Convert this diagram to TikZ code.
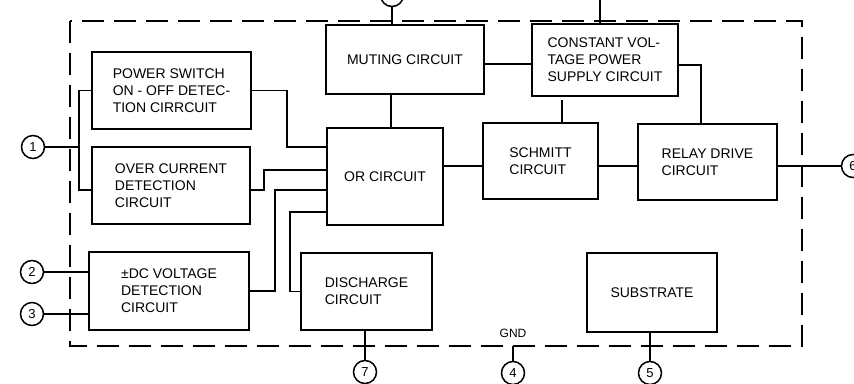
\documentclass[tikz,border=0pt]{standalone}
\usepackage{fontspec}
\setmainfont{Liberation Sans}
\begin{document}
\begin{tikzpicture}[x=1pt,y=-1pt,
  blk/.style={draw,line width=1.6pt,align=left,inner sep=0pt,font=\fontsize{14}{17}\selectfont},
  wire/.style={line width=1.4pt},
  pin/.style={draw,circle,line width=1.5pt,minimum size=23pt,inner sep=0pt,font=\fontsize{13}{13}\selectfont}]
\clip (0,0) rectangle (854,383);
\useasboundingbox (0,0) rectangle (854,383);
\fill[white] (0,0) rectangle (854,383);
% chip outline
\draw[line width=1.6pt,dash pattern=on 22pt off 10pt] (70,21) rectangle (802,346);
% blocks
\node[blk,minimum width=159pt,minimum height=77pt] (psw) at (171.5,90.5) {POWER SWITCH\\ON - OFF DETEC-\\TION CIRRCUIT};
\node[blk,minimum width=158pt,minimum height=77pt] (oc) at (171,185.5) {OVER CURRENT\\DETECTION\\CIRCUIT};
\node[blk,minimum width=160pt,minimum height=78pt] (dc) at (169,291) {±DC VOLTAGE\\DETECTION\\CIRCUIT};
\node[blk,minimum width=158pt,minimum height=69pt] (mut) at (405,59.5) {MUTING CIRCUIT};
\node[blk,minimum width=116pt,minimum height=97pt] (orc) at (385,176.5) {OR CIRCUIT};
\node[blk,minimum width=146pt,minimum height=72pt] (cv) at (605,60) {CONSTANT VOL-\\TAGE POWER\\SUPPLY CIRCUIT};
\node[blk,minimum width=115pt,minimum height=76pt] (sch) at (540.5,161) {SCHMITT\\CIRCUIT};
\node[blk,minimum width=139pt,minimum height=76pt] (rel) at (707.5,162) {RELAY DRIVE\\CIRCUIT};
\node[blk,minimum width=131pt,minimum height=77pt] (dis) at (366.5,291.5) {DISCHARGE\\CIRCUIT};
\node[blk,minimum width=130pt,minimum height=79pt] (sub) at (652,292.5) {SUBSTRATE};
% pins
\node[pin] (p1) at (33,147) {1};
\node[pin] (p2) at (32,272) {2};
\node[pin] (p3) at (32,314) {3};
\node[pin] (p4) at (513,373) {4};
\node[pin] (p5) at (650,373) {5};
\node[pin] (p6) at (853,166) {6};
\node[pin] (p7) at (365,372) {7};
\node[pin] (p8) at (392,-5) {8};
\node[font=\fontsize{12}{12}\selectfont] (gnd) at (513,333) {GND};
\coordinate (bus) at (79,147);
\coordinate (gndpt) at (513,346);
\coordinate (topfree) at (600,-5);
% wires
\draw[wire] (p1) -- (bus);
\draw[wire] (psw.west) -| (bus) |- (oc.west |- 0,190);
\draw[wire] (psw.east) -| (287,147) -- (orc.west |- 0,147);
\draw[wire] (oc.east |- 0,190) -- (264,190) -- (264,170) -- (orc.west |- 0,170);
\draw[wire] (dc.east) -- (275,291) -- (275,190) -- (orc.west |- 0,190);
\draw[wire] (dis.west) -- (290,291.5) -- (290,212) -- (orc.west |- 0,212);
\draw[wire] (mut.south -| 391,0) -- (orc.north -| 391,0);
\draw[wire] (mut.north -| p8) -- (p8);
\draw[wire] (orc.east |- 0,166) -- (sch.west |- 0,166);
\draw[wire] (sch.east |- 0,166) -- (rel.west |- 0,166);
\draw[wire] (rel.east |- 0,166) -- (p6);
\draw[wire] (mut.east |- 0,64) -- (cv.west |- 0,64);
\draw[wire] (562,100) -- (sch.north -| 562,0);
\draw[wire] (cv.east |- 0,65) -| (rel.north -| 701,0);
\draw[wire] (cv.north -| topfree) -- (topfree);
\draw[wire] (p2) -- (dc.west |- p2);
\draw[wire] (p3) -- (dc.west |- p3);
\draw[wire] (p7) -- (dis.south -| p7);
\draw[wire] (p4) -- (gndpt);
\draw[wire] (p5) -- (sub.south -| p5);
\end{tikzpicture}
\end{document}
